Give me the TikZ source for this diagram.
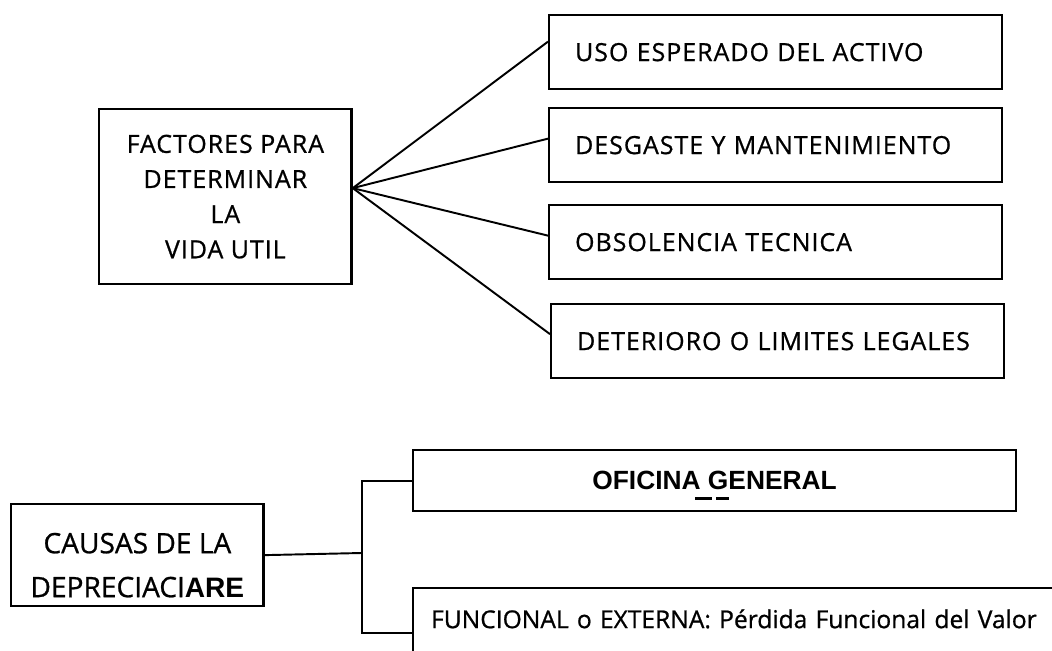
\documentclass[tikz,border=0pt]{standalone}
\usepackage{fontspec}
\setmainfont[FakeBold=0.8]{Open Sans}
\newfontfamily\capsfont[LetterSpace=4, FakeBold=0.8]{Open Sans}
\newfontfamily\arialfont{Liberation Sans}
\usetikzlibrary{positioning}

\begin{document}
\begin{tikzpicture}[
    x = 0.02cm,
    y = -0.02cm,
    line width = 1.1pt,
    font = \capsfont\fontsize{14.2}{20}\selectfont,
    box/.style={draw, line width=1.3pt, anchor=north west, inner sep=0pt},
    item/.style={box, text width=8.02cm, inner xsep=0.52cm, align=left,
        minimum height=1.48cm},
    topic/.style={box, align=center, minimum width=5.05cm}
]
    \clip (0,0) rectangle (1052,651);

    % factores
    \node[topic, minimum height=3.5cm] (fact) at (98,108)
        {FACTORES PARA\\DETERMINAR\\LA\\VIDA UTIL};
    \node[item] (uso)  at (548,14)  {USO ESPERADO DEL ACTIVO};
    \node[item] (desg) at (548,107) {DESGASTE Y MANTENIMIENTO};
    \node[item] (obso) at (548,204) {OBSOLENCIA TECNICA};
    \node[item] (dete) at (550,303) {DETERIORO O LIMITES LEGALES};

    \path
        ([yshift=0.17cm]fact.east) edge ([yshift=0.21cm]uso.west)
        ([yshift=0.17cm]fact.east) edge ([yshift=0.13cm]desg.west)
        ([yshift=0.17cm]fact.east) edge ([yshift=0.13cm]obso.west)
        ([yshift=0.17cm]fact.east) edge ([yshift=0.14cm]dete.west);

    % causas
    \node[topic, minimum height=2.04cm,
        font=\fontsize{16}{25}\selectfont] (causas) at (10,503)
        {\rule{0pt}{23pt}CAUSAS DE LA\\DEPRECIACI{\arialfont\bfseries ARE}};
    \node[box, minimum width=12.06cm, minimum height=1.22cm,
        font=\arialfont\bfseries\fontsize{15}{18}\selectfont] (ofic) at (412,449)
        {OFICINA GENERAL};
    \node[inner sep=0pt] (oftail) at (712,499)
        {\rule{0.34cm}{0.06cm}\hspace{0.08cm}\rule{0.26cm}{0.06cm}};
    \node[box, text width=13.28cm, inner xsep=0.36cm, align=left,
        font=\fontsize{14}{17}\selectfont,
        text height=0.8cm, text depth=1cm] (func) at (412,587)
        {FUNCIONAL o EXTERNA: Pérdida Funcional del Valor};

    \draw (causas.east) -- (362,553) coordinate (fork);
    \draw (ofic.west) -| (fork) |- (func.west);
\end{tikzpicture}
\end{document}
